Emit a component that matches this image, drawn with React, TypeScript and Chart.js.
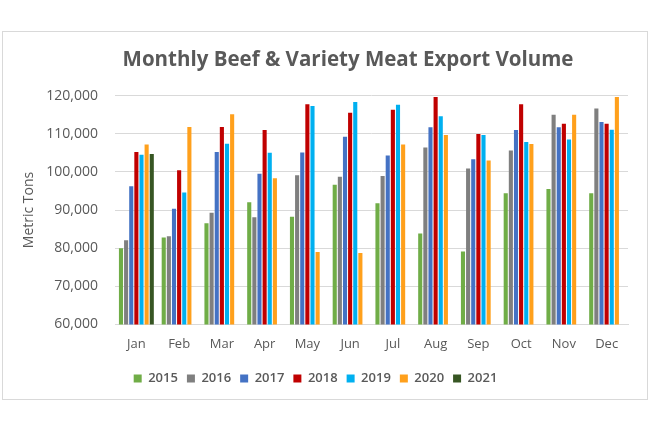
import React, { useEffect, useRef } from "react";
import { Chart, registerables } from "chart.js";

Chart.register(...registerables);

const categories = ["Jan", "Feb", "Mar", "Apr", "May", "Jun", "Jul", "Aug", "Sep", "Oct", "Nov", "Dec"];
const years = ["2015", "2016", "2017", "2018", "2019", "2020", "2021"];
const v2015 = [80000, 82800, 86500, 92000, 88250, 96600, 91750, 83850, 79100, 94400, 95500, 94400];
const v2016 = [82100, 83100, 89300, 88100, 99100, 98700, 98900, 106400, 100900, 105600, 115000, 116600];
const v2017 = [96200, 90300, 105200, 99500, 105100, 109200, 104300, 111700, 103300, 111000, 111700, 113100];
const v2018 = [105200, 100400, 111750, 111000, 117700, 115500, 116300, 119650, 109900, 117700, 112600, 112600];
const v2019 = [104500, 94600, 107400, 105000, 117300, 118300, 117600, 114600, 109650, 107800, 108500, 111050];
const v2020 = [107200, 111750, 115100, 98300, 79000, 78700, 107200, 109650, 103000, 107300, 115000, 119650];
const v2021 = [104700, null, null, null, null, null, null, null, null, null, null, null];
const colors = ["#70AD47", "#7F7F7F", "#4472C4", "#C00000", "#00B0F0", "#FFA01C", "#375623"];
const yMin = 60000;
const yMax = 120000;
const yStep = 10000;

const titleShift = {
  id: "titleShift",
  afterLayout(chart: any) {
    const t = chart.titleBlock;
    if (t) {
      t.left = 65;
      t.right = 625;
      t.width = t.right - t.left;
    }
  },
};

export default function App() {
  const ref = useRef<HTMLCanvasElement | null>(null);
  useEffect(() => {
    if (!ref.current) return;
    const series = [v2015, v2016, v2017, v2018, v2019, v2020, v2021];
    const font = "'Open Sans', 'DejaVu Sans', sans-serif";
    const chart = new Chart(ref.current, {
      type: "bar",
      data: {
        labels: categories,
        datasets: series.map((d, i) => ({
          label: years[i],
          data: d,
          backgroundColor: colors[i],
          borderWidth: 0,
          barPercentage: 0.8,
          categoryPercentage: 0.84,
        })),
      },
      plugins: [titleShift],
      options: {
        responsive: false,
        animation: false,
        layout: { padding: { left: 0, right: 19, top: 16, bottom: 4 } },
        plugins: {
          title: {
            display: true,
            text: "Monthly Beef & Variety Meat Export Volume",
            color: "#595959",
            font: { family: font, size: 20.5, weight: "bold" },
            padding: { top: 0, bottom: 23 },
          },
          legend: {
            position: "bottom",
            labels: {
              color: "#595959",
              boxWidth: 8,
              boxHeight: 8,
              padding: 9,
              font: { family: font, size: 13, weight: "600" },
            },
          },
          tooltip: { enabled: false },
        },
        scales: {
          x: {
            grid: { display: false, drawTicks: false },
            border: { display: true, color: "#D9D9D9" },
            ticks: { color: "#595959", padding: 12, font: { family: font, size: 13, weight: "500" } },
            afterFit: (s: any) => {
              s.height -= 1;
            },
          },
          y: {
            min: yMin,
            max: yMax,
            grid: { color: "#D9D9D9", drawTicks: false },
            border: { display: false },
            ticks: {
              stepSize: yStep,
              color: "#595959",
              padding: 17,
              font: { family: font, size: 14 },
            },
            title: {
              display: true,
              text: "Metric Tons",
              color: "#595959",
              font: { family: font, size: 14 },
              padding: { top: 18, bottom: 0 },
            },
            afterFit: (s: any) => {
              s.width = 112;
            },
          },
        },
      },
    });
    return () => chart.destroy();
  }, []);
  return (
    <div style={{ position: "absolute", left: 0, top: 0, width: 650, height: 433, background: "#fff" }}>
      <div
        style={{
          position: "absolute",
          left: 2,
          top: 31,
          width: 646,
          height: 369,
          boxSizing: "border-box",
          border: "1px solid #D9D9D9",
        }}
      >
        <canvas ref={ref} width={644} height={367} style={{ display: "block" }} />
      </div>
    </div>
  );
}
